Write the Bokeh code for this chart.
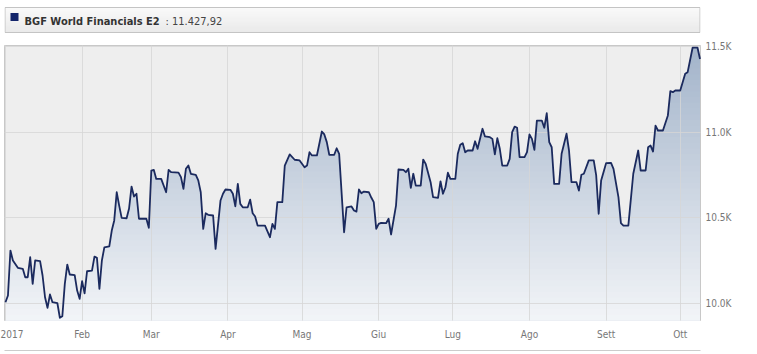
import numpy as np
from bokeh.plotting import figure
from bokeh.layouts import column
from bokeh.models import FixedTicker, Range1d, LinearAxis
from bokeh.core.properties import value
from bokeh.embed import file_html
from bokeh.resources import INLINE

series_name = "BGF World Financials E2"
start_date = "2017-01-01"

day_offsets = [
    0, 1, 2, 3, 5, 7, 8, 9, 10, 11,
    12, 14, 15, 16, 17, 18, 19, 21, 22, 23,
    24, 25, 26, 28, 29, 30, 31, 32, 33, 35,
    36, 37, 38, 39, 40, 42, 43, 44, 45, 46,
    47, 49, 50, 51, 52, 53, 54, 57, 58, 59,
    60, 61, 63, 65, 66, 67, 70, 71, 72, 73,
    74, 75, 77, 78, 79, 80, 81, 82, 84, 85,
    87, 88, 89, 91, 92, 93, 94, 95, 96, 98,
    99, 100, 101, 102, 105, 107, 108, 109, 110, 112,
    113, 115, 117, 119, 121, 122, 123, 124, 126, 128,
    129, 130, 131, 133, 134, 135, 137, 138, 140, 141,
    142, 143, 144, 145, 147, 148, 149, 150, 151, 152,
    154, 155, 156, 158, 159, 161, 162, 163, 164, 165,
    166, 168, 169, 170, 172, 173, 175, 176, 177, 178,
    179, 180, 182, 183, 184, 185, 186, 187, 189, 190,
    191, 193, 194, 196, 197, 198, 199, 200, 201, 203,
    204, 205, 206, 207, 208, 210, 211, 212, 213, 214,
    215, 217, 218, 219, 220, 221, 222, 224, 225, 227,
    228, 229, 231, 232, 233, 234, 236, 238, 239, 240,
    241, 243, 245, 246, 248, 249, 250, 252, 254, 256,
    257, 259, 260, 261, 262, 263, 264, 266, 268, 269,
    270, 271, 273, 275, 276, 278, 280, 281,
]

nav_values = [
    10006, 10045, 10308, 10250, 10207, 10201, 10152, 10152, 10269, 10113,
    10250, 10246, 10162, 10035, 9973, 10051, 10006, 10000, 9915, 9924,
    10113, 10226, 10168, 10164, 10074, 10026, 10129, 10058, 10187, 10191,
    10273, 10265, 10084, 10250, 10327, 10332, 10425, 10484, 10649, 10571,
    10499, 10497, 10554, 10682, 10624, 10640, 10494, 10494, 10441, 10776,
    10780, 10727, 10727, 10649, 10780, 10766, 10764, 10737, 10669, 10786,
    10805, 10757, 10751, 10718, 10649, 10435, 10526, 10517, 10513, 10318,
    10601, 10640, 10665, 10663, 10640, 10567, 10698, 10581, 10561, 10561,
    10606, 10526, 10507, 10454, 10454, 10386, 10464, 10435, 10591, 10591,
    10805, 10870, 10839, 10835, 10795, 10805, 10883, 10864, 10864, 11004,
    10987, 10942, 10868, 10868, 10906, 10874, 10415, 10561, 10566, 10542,
    10536, 10665, 10643, 10653, 10649, 10618, 10591, 10435, 10464, 10470,
    10468, 10494, 10402, 10571, 10782, 10780, 10766, 10786, 10675, 10757,
    10688, 10688, 10840, 10815, 10708, 10620, 10616, 10713, 10640, 10678,
    10763, 10727, 10727, 10874, 10926, 10936, 10883, 10893, 10893, 10947,
    10903, 11020, 10975, 10971, 10961, 10870, 10965, 10903, 10805, 10805,
    10844, 11000, 11033, 11026, 10854, 10854, 10883, 10987, 10961, 10897,
    11068, 11068, 11026, 11111, 10942, 10912, 10698, 10698, 10874, 10991,
    10893, 10708, 10708, 10659, 10751, 10757, 10835, 10835, 10747, 10523,
    10718, 10819, 10821, 10786, 10620, 10468, 10454, 10454, 10757, 10893,
    10776, 10776, 10912, 10922, 10887, 11039, 11010, 11010, 11098, 11240,
    11234, 11244, 11244, 11342, 11351, 11494, 11494, 11427.92,
]

month_starts = ["2017-01-01", "2017-02-01", "2017-03-01", "2017-04-01", "2017-05-01",
                "2017-06-01", "2017-07-01", "2017-08-01", "2017-09-01", "2017-10-01"]
month_labels = ["2017", "Feb", "Mar", "Apr", "Mag", "Giu", "Lug", "Ago", "Sett", "Ott"]

y_ticks = [10000, 10500, 11000, 11500]
y_tick_labels = ["10.0K", "10.5K", "11.0K", "11.5K"]

FONT = "DejaVu Sans Condensed"
LINE_COLOR = "#1b2a5e"
DAY = 86400000.0

n = min(len(day_offsets), len(nav_values))
days = np.array(day_offsets[:n], dtype="int64")
vals = np.array(nav_values[:n], dtype=float)
x = (np.datetime64(start_date, "ms") + days.astype("timedelta64[D]")).astype("datetime64[ms]").astype(np.int64).astype(float)
month_ms = np.array(month_starts, dtype="datetime64[ms]").astype(np.int64)

y_lo, y_hi = 9899.0, 11507.0
FRAME_L, FRAME_R = 4, 700   # canvas x of the chart frame (header frame aligns to it)


def lerp_color(c1, c2, t):
    a = [int(c1[i:i + 2], 16) for i in (1, 3, 5)]
    b = [int(c2[i:i + 2], 16) for i in (1, 3, 5)]
    return "#%02x%02x%02x" % tuple(int(round(a[k] + (b[k] - a[k]) * t)) for k in range(3))


# ---------------- header ----------------
h = figure(width=757, height=40, x_range=Range1d(FRAME_L, FRAME_R), y_range=Range1d(40, 0),
           toolbar_location=None, output_backend="svg",
           min_border_left=FRAME_L, min_border_right=757 - FRAME_R, min_border_top=0, min_border_bottom=0,
           x_axis_location=None, y_axis_location=None)
h.outline_line_color = None
h.grid.visible = False
h.background_fill_color = "white"
h.border_fill_color = "white"

hb_top, hb_bot, hb_left, hb_right = 7.0, 32.0, 4.5, 699.5
nb = 25
edges = np.linspace(hb_top, hb_bot, nb + 1)
h.quad(left=[hb_left] * nb, right=[hb_right] * nb, top=list(edges[:-1]), bottom=list(edges[1:]),
       fill_color=[lerp_color("#f8f8f8", "#e3e3e3", i / (nb - 1)) for i in range(nb)],
       line_color=None)
h.quad(left=[hb_left], right=[hb_right], top=[hb_top], bottom=[hb_bot],
       fill_alpha=0, line_color="#c4c4c4", line_width=1)
h.quad(left=[10], right=[18], top=[12.5], bottom=[20.5], fill_color="#14256b", line_color=None)
h.text(x=[24], y=[20.5], text=[series_name], text_font=value(FONT), text_font_size="11px",
       text_font_style="bold", text_color="#333333", text_baseline="middle")
last_val = "{:,.2f}".format(vals[-1]).replace(",", "X").replace(".", ",").replace("X", ".")
h.text(x=[165], y=[20.5], text=[": " + last_val], text_font=value(FONT), text_font_size="11px",
       text_color="#444444", text_baseline="middle")

# ---------------- main chart ----------------
p = figure(width=757, height=314, x_axis_type="datetime", y_axis_location="right",
           x_range=Range1d(x[0] - 0.4 * DAY, x[-1] + 0.2 * DAY), y_range=Range1d(y_lo, y_hi),
           toolbar_location=None, output_backend="svg",
           min_border_left=FRAME_L, min_border_right=757 - FRAME_R, min_border_top=5, min_border_bottom=34)
p.background_fill_color = "#eeeeee"
p.border_fill_color = "white"
p.outline_line_color = "#c8c8c8"

nbands = 48
band_tops = np.linspace(y_lo, y_hi, nbands + 1)[1:]
top_col, bot_col = "#a3b4ca", "#f3f5f8"
for k in range(nbands - 1, -1, -1):
    hi = band_tops[k]
    t = (hi - y_lo) / (y_hi - y_lo)
    p.varea(x=x, y1=np.full(n, y_lo), y2=np.minimum(vals, hi), fill_color=lerp_color(bot_col, top_col, t))

r_line = p.line(x, vals, line_color=LINE_COLOR, line_width=1.8, line_join="round")
r_line.level = "annotation"

p.xgrid.ticker = FixedTicker(ticks=[float(t) for t in month_ms])
p.ygrid.ticker = FixedTicker(ticks=y_ticks)
p.grid.grid_line_color = "#d6d6d6"
p.grid.grid_line_alpha = 0.8
p.grid.level = "guide"

xa = p.xaxis[0]
xa.ticker = FixedTicker(ticks=[float(t) for t in month_ms])
xa.major_label_overrides = {float(t): lab for t, lab in zip(month_ms, month_labels)}
xa.major_label_text_align = "left"
xa.axis_line_color = None
xa.major_tick_line_color = None
xa.minor_tick_line_color = None
xa.major_tick_out = 0
xa.major_tick_in = 0
xa.minor_tick_out = 0
xa.major_label_standoff = 8
xa.major_label_text_font = FONT
xa.major_label_text_font_size = "10px"
xa.major_label_text_color = "#777777"
# invisible spacer label so that the footer rule (next axis line) sits lower
xa.axis_label = " "
xa.axis_label_text_font_size = "4px"
xa.axis_label_standoff = 0

# footer rule: an empty axis whose line is the thin bottom separator
rule = LinearAxis(ticker=FixedTicker(ticks=[]), axis_line_color="#cccccc", axis_line_width=1,
                  major_tick_line_color=None, minor_tick_line_color=None,
                  major_tick_out=0, major_tick_in=0, minor_tick_out=0, minor_tick_in=0,
                  major_label_text_font_size="0px", major_label_standoff=0,
                  axis_label=" ", axis_label_text_font_size="1px", axis_label_standoff=0)
p.add_layout(rule, "below")

ya = p.yaxis[0]
ya.ticker = FixedTicker(ticks=y_ticks)
ya.major_label_overrides = {t: lab for t, lab in zip(y_ticks, y_tick_labels)}
ya.axis_line_color = None
ya.major_tick_line_color = None
ya.minor_tick_line_color = None
ya.major_tick_out = 0
ya.major_tick_in = 0
ya.minor_tick_out = 0
ya.major_label_standoff = 5
ya.major_label_text_font = FONT
ya.major_label_text_font_size = "10px"
ya.major_label_text_color = "#777777"

layout = column(h, p, spacing=0)
open("out.html", "w").write(file_html(layout, INLINE))
